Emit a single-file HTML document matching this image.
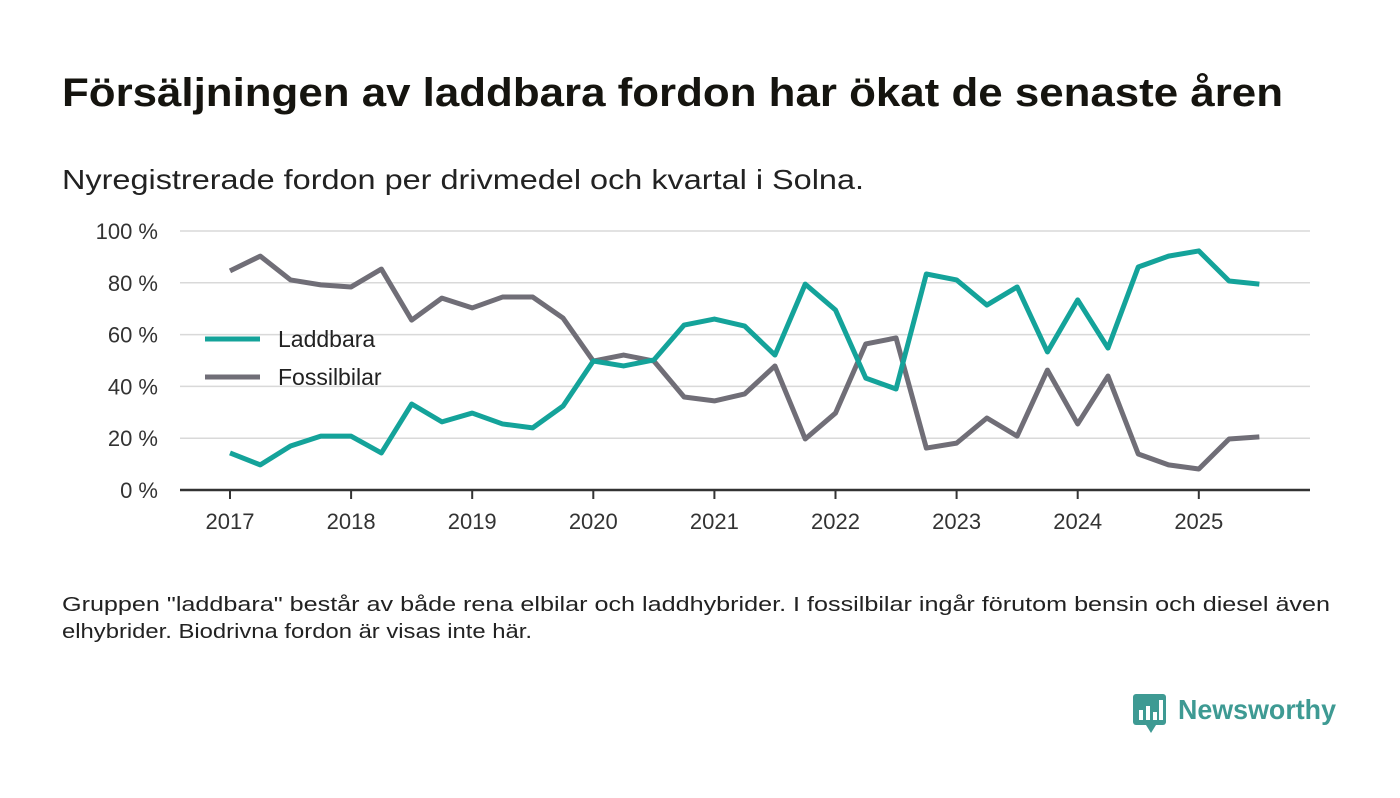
<!DOCTYPE html>
<html><head><meta charset="utf-8"><style>
body{margin:0;background:#fff;width:1400px;height:793px;overflow:hidden}
svg text{font-family:"Liberation Sans","DejaVu Sans",sans-serif}
</style></head><body>
<svg width="1400" height="793">
<text x="62" y="106" font-size="40" font-weight="bold" fill="#15140f" textLength="1221" lengthAdjust="spacingAndGlyphs">Försäljningen av laddbara fordon har ökat de senaste åren</text>
<text x="62" y="189" font-size="28" fill="#222" textLength="802" lengthAdjust="spacingAndGlyphs">Nyregistrerade fordon per drivmedel och kvartal i Solna.</text>
<g id="grid"></g><g id="series"></g>
<g>
<line x1="205" y1="339" x2="260" y2="339" stroke="#14a39a" stroke-width="5"/>
<text x="278" y="347" font-size="23" fill="#222">Laddbara</text>
<line x1="205" y1="377" x2="260" y2="377" stroke="#706e77" stroke-width="5"/>
<text x="278" y="385" font-size="23" fill="#222">Fossilbilar</text>
</g>
<text font-size="20" fill="#222"><tspan x="62" y="611" textLength="1268" lengthAdjust="spacingAndGlyphs">Gruppen "laddbara" består av både rena elbilar och laddhybrider. I fossilbilar ingår förutom bensin och diesel även</tspan><tspan x="62" y="638" textLength="470" lengthAdjust="spacingAndGlyphs">elhybrider. Biodrivna fordon är visas inte här.</tspan></text>
<g>
<rect x="1133" y="694" width="33" height="31" rx="3" fill="#3e9a93"/>
<polygon points="1146,725 1156,725 1151,733" fill="#3e9a93"/>
<rect x="1139" y="710" width="4" height="10" fill="#fff"/><rect x="1146" y="706" width="4" height="14" fill="#fff"/><rect x="1153" y="712" width="4" height="8" fill="#fff"/><rect x="1159" y="700" width="4" height="20" fill="#fff"/>
<text x="1178" y="719" font-size="28" font-weight="bold" fill="#3e9a93" textLength="158" lengthAdjust="spacingAndGlyphs">Newsworthy</text>
</g>
</svg>
<script>
const quarters = [];
for (let y = 2017; y <= 2025; y++) for (let q = 0; q < 4; q++) quarters.push(y + q / 4);
quarters.length = 35;
const laddbara = [14.3,9.7,17,20.8,20.8,14.3,33.2,26.3,29.7,25.5,24,32.4,49.8,47.9,50.2,63.7,66,63.3,52.1,79.5,69.5,43.2,39,83.4,81.1,71.4,78.4,53.3,73.4,54.8,86.1,90.3,92.3,80.7,79.5];
const fossilbilar = [84.6,90.3,81.1,79.2,78.4,85.3,65.6,74.1,70.3,74.5,74.5,66.4,49.8,52.1,49.8,35.9,34.4,37.1,47.9,19.7,29.7,56.4,58.7,16.2,18.1,27.8,20.8,46.3,25.5,44,13.9,9.7,8.1,19.7,20.5];
const yTicks = [0,20,40,60,80,100];
const xTicks = [2017,2018,2019,2020,2021,2022,2023,2024,2025];
const NS = "http://www.w3.org/2000/svg";
const X = v => 230 + (v - 2017) * 121.1;
const Y = v => 490 - v * 2.59;
function mk(tag, attrs, parent, txt) {
  const e = document.createElementNS(NS, tag);
  for (const k in attrs) e.setAttribute(k, attrs[k]);
  if (txt !== undefined) e.textContent = txt;
  parent.appendChild(e); return e;
}
const grid = document.getElementById('grid');
yTicks.forEach(t => {
  if (t > 0) {
    const l = mk('line', {x1:180, x2:1310, y1:Y(t), y2:Y(t), stroke:'#d9d9d9', 'stroke-width':1.5}, grid);
    
    
  }
  const tx = mk('text', {x:158, y:Y(t)+8, 'text-anchor':'end', 'font-size':22, fill:'#333'}, grid, t + ' %');
  
  
});
const ax = mk('line', {x1:180, x2:1310, y1:490, y2:490, stroke:'#333', 'stroke-width':2.5}, grid);


xTicks.forEach(t => {
  mk('line', {x1:X(t), x2:X(t), y1:490, y2:499, stroke:'#333', 'stroke-width':2}, grid);
  const tx = mk('text', {x:X(t), y:529, 'text-anchor':'middle', 'font-size':22, fill:'#333'}, grid, t);
  
  
});
const sg = document.getElementById('series');
[[fossilbilar,'#706e77','fossilbilar-line'],[laddbara,'#14a39a','laddbara-line']].forEach(([d,c,n]) => {
  const p = mk('polyline', {points:d.map((v,i)=>X(quarters[i])+','+Y(v)).join(' '), fill:'none', stroke:c, 'stroke-width':5, 'stroke-linejoin':'round'}, sg);
  
  
});
</script>
</body></html>
